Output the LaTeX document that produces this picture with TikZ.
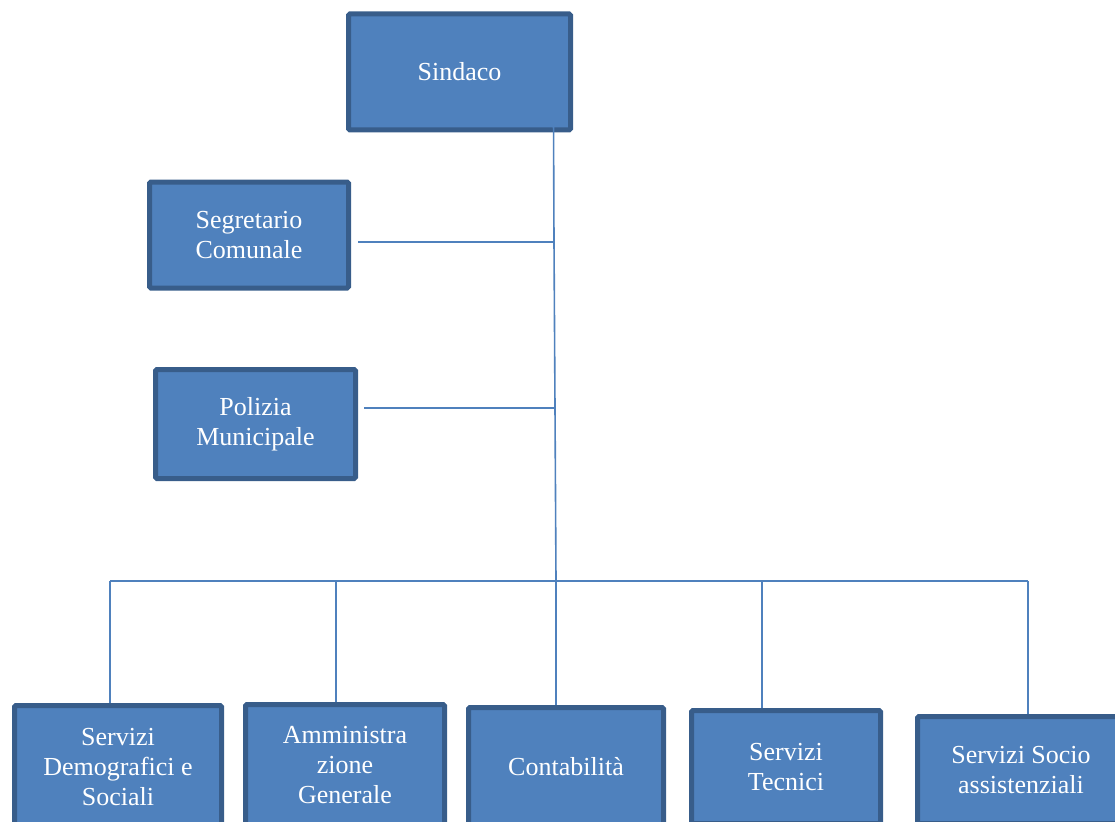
\documentclass[tikz,border=0pt]{standalone}
\usepackage{fontspec}
\setmainfont{Liberation Serif}
\usepackage{tikz}
\usepackage{xcolor}
\definecolor{officefill}{RGB}{79,129,189}
\definecolor{officeborder}{RGB}{56,93,138}
\definecolor{officeline}{RGB}{79,129,189}

\begin{document}
\begin{tikzpicture}[
    x=1pt, y=-1pt,
    office/.style={rectangle, rounded corners=1.5pt, draw=officeborder, line width=5pt,
                   fill=officefill, text=white, align=center, inner sep=0pt,
                   font=\fontsize{26}{30}\selectfont},
    link/.style={draw=officeline, line width=1.6pt}
]
\clip (0,0) rectangle (1115,821);

% Offices
\node[office, minimum width=222pt, minimum height=116pt] (sindaco) at (459.5,72) {Sindaco};
\node[office, minimum width=199pt, minimum height=106pt] (segretario) at (249,235) {Segretario\\Comunale};
\node[office, minimum width=200pt, minimum height=109pt] (polizia) at (255.5,424) {Polizia\\Municipale};
\node[office, minimum width=207pt, minimum height=123pt] (demografici) at (118,767) {Servizi\\Demografici e\\Sociali};
\node[office, minimum width=199pt, minimum height=121pt] (amministrazione) at (345,765) {Amministra\\zione\\Generale};
\node[office, minimum width=195pt, minimum height=119pt] (contabilita) at (566,767) {Contabilità};
\node[office, minimum width=189pt, minimum height=113pt] (tecnici) at (786,767) {Servizi\\Tecnici};
\node[office, minimum width=207pt, minimum height=107pt] (socio) at (1021,770) {Servizi Socio\\assistenziali};

% Junctions
\coordinate (trunk) at (553.5,118);
\coordinate (j1) at (554,242);
\coordinate (j2) at (555,408);
\coordinate (bus mid) at (556,581);
\coordinate (bus left) at (110,581);
\coordinate (bus right) at (1028,581);
\coordinate (b2) at (336,581);
\coordinate (b4) at (762,581);

% Connections
\draw[link] (trunk) -- (j1) -- (j2) -- (bus mid);
\draw[link] ([xshift=7pt]segretario.east |- j1) -- (j1);
\draw[link] ([xshift=6pt]polizia.east |- j2) -- (j2);
\draw[link] (bus left) -- (bus right);
\draw[link] (bus left) -- (bus left |- demografici.north);
\draw[link] (b2) -- (b2 |- amministrazione.north);
\draw[link] (bus mid) -- (bus mid |- contabilita.north);
\draw[link] (b4) -- (b4 |- tecnici.north);
\draw[link] (bus right) -- (bus right |- socio.north);
\end{tikzpicture}
\end{document}
